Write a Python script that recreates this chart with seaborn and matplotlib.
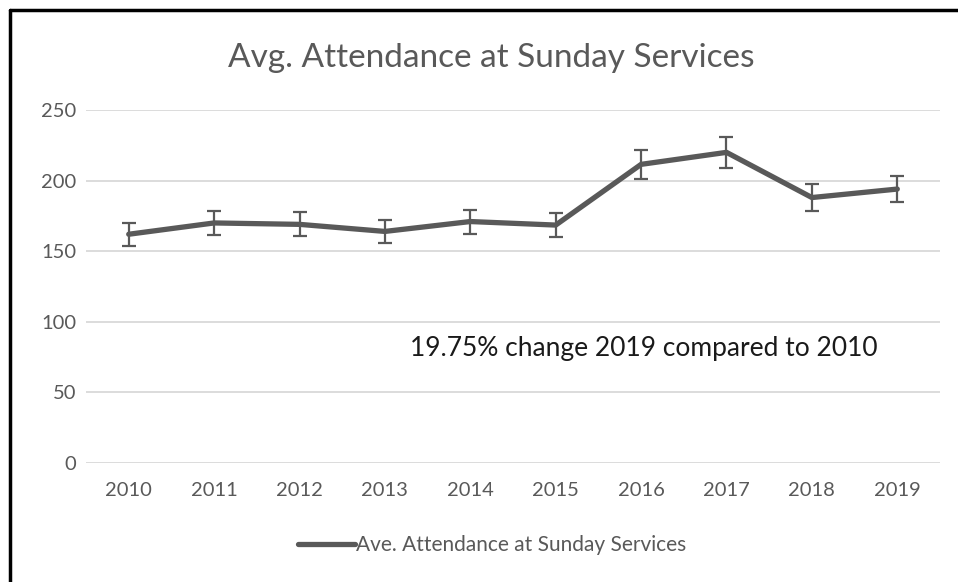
import matplotlib
matplotlib.use("Agg")
import matplotlib.pyplot as plt
import numpy as np
import pandas as pd
import seaborn as sns
from matplotlib.lines import Line2D

years = ["2010", "2011", "2012", "2013", "2014", "2015", "2016", "2017", "2018", "2019"]
attendance = [162, 170, 169, 164, 171, 168.5, 211.5, 220, 188, 194]
error = [8, 8.5, 8.5, 8, 8.5, 8.5, 10.5, 11, 9.5, 9.5]
yticks = [0, 50, 100, 150, 200, 250]

sns.set_theme(style="white")
plt.rcParams["font.family"] = ["Lato", "DejaVu Sans"]

grey = "#595959"
df = pd.DataFrame({"Year": years, "Attendance": attendance, "pos": np.arange(len(years))})

fig = plt.figure(figsize=(9.58, 5.82), dpi=100)
ax = fig.add_axes([0.0898, 0.2045, 0.8914, 0.6065])

sns.lineplot(data=df, x="pos", y="Attendance", ax=ax, color=grey, linewidth=3.8,
             label="Ave. Attendance at Sunday Services", solid_capstyle="round")
ax.errorbar(df["pos"], df["Attendance"], yerr=error, fmt="none", ecolor=grey,
            elinewidth=1.6, capsize=5, capthick=1.6)

ax.set_xlim(-0.5, len(years) - 0.5)
ax.set_ylim(0, 250)
ax.set_xticks(df["pos"])
ax.set_xticklabels(years)
ax.set_yticks(yticks)
ax.set_xlabel("")
ax.set_ylabel("")
ax.grid(axis="y", color="#d9d9d9", linewidth=1.3)
ax.grid(axis="x", visible=False)
ax.set_axisbelow(True)
for s in ax.spines.values():
    s.set_visible(False)
ax.tick_params(axis="x", length=0, pad=14, labelsize=14.5, labelcolor=grey)
ax.tick_params(axis="y", length=0, pad=7, labelsize=14.5, labelcolor=grey)

ax.text(3.29, 81, "19.75% change 2019 compared to 2010", fontsize=19,
        color="#1a1a1a", ha="left", va="center")

fig.text(0.5125, 0.90, "Avg. Attendance at Sunday Services", fontsize=24,
         color=grey, ha="center", va="center")

leg = ax.legend(loc="center", bbox_to_anchor=(0.476, -0.232), frameon=False,
                fontsize=15, handlelength=2.7, handletextpad=0.08)
for t in leg.get_texts():
    t.set_color(grey)

# chart border (top and left edges visible)
fig.add_artist(Line2D([0.0105, 1.0], [0.9828, 0.9828], color="black", linewidth=2.5,
                      transform=fig.transFigure))
fig.add_artist(Line2D([0.0105, 0.0105], [0.0, 0.9828], color="black", linewidth=2.5,
                      transform=fig.transFigure))

fig.savefig("out.png", dpi=100, facecolor="white")
